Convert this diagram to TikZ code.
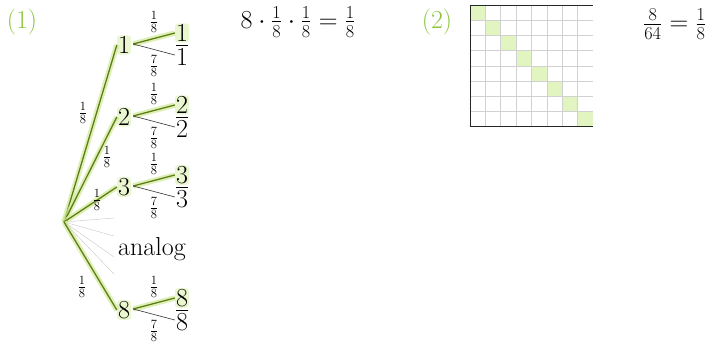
\RequirePackage{fix-cm}
\documentclass[tikz,border=0pt]{standalone}
\usepackage{amsmath}
\usetikzlibrary{positioning,calc}
\definecolor{tagGreen}{RGB}{140,198,63}
\definecolor{pathGreen}{RGB}{95,125,25}
\definecolor{haloGreen}{RGB}{208,234,150}
\definecolor{cellGreen}{RGB}{226,244,192}

\begin{document}
\begin{tikzpicture}[x=1pt, y=-1pt,
  num/.style={inner sep=1pt, font=\fontsize{26}{28}\selectfont},
  glow/.style={fill=haloGreen!45, rounded corners=3pt},
  prob/.style={inner sep=0pt, font=\fontsize{18}{20}\selectfont},
  hl/.style={draw=pathGreen, line width=1.3pt,
    preaction={draw=haloGreen, line width=5.5pt, opacity=0.7}},
  lo/.style={draw=black!80, line width=0.6pt},
  faint/.style={draw=black!22, line width=0.4pt},
  tag/.style={text=tagGreen, font=\fontsize{26}{28}\selectfont},
  eq/.style={font=\fontsize{26}{28}\selectfont}
]
\useasboundingbox (0,0) rectangle (707,347);

% part (1): tree
\node[tag] (t1) at (22,22) {(1)};
\coordinate (r) at (64,222);

% faint branches for 4..7
\foreach \e in {218,236,257,274}
  \draw[faint] (r) -- (114,\e);

\foreach \n/\y/\lx/\ly in {1/45/83/113, 2/117/107/157, 3/187/97/200, 8/310/82/287} {
  \node[num, glow] (m\n) at (124,\y) {\n};
  \node[num, glow] (u\n) at (182,\y-12) {\n};
  \node[num] (d\n) at (182,\y+10) {$\overline{\n}$};
  \coordinate (s\n) at ($(m\n.east)+(2,-1)$);
  \draw[hl] (r) -- (m\n.west);
  \draw[hl] (s\n) -- (u\n.west);
  \draw[lo] (s\n) -- (d\n.west);
  \node[prob] (p\n) at (\lx,\ly) {$\frac{1}{8}$};
  \node[prob] (pu\n) at (154,\y-23) {$\frac{1}{8}$};
  \node[prob] (pd\n) at (154,\y+21) {$\frac{7}{8}$};
}
\node[num] (an) at (152,249) {analog};

\node[eq] (f1) at (298,22) {$8\cdot\frac{1}{8}\cdot\frac{1}{8}=\frac{1}{8}$};

% part (2): grid
\node[tag] (t2) at (437,22) {(2)};
\foreach \i in {0,...,7}
  \fill[cellGreen] (470+15.35*\i,5+15.2*\i) rectangle ++(15.35,15.2);
\foreach \i in {1,...,7} {
  \draw[black!18, line width=0.5pt] (470+15.35*\i,5) -- (470+15.35*\i,126.6);
  \draw[black!18, line width=0.5pt] (470,5+15.2*\i) -- (592.8,5+15.2*\i);
}
\draw[black!85, line width=0.8pt] (592.8,5) -- (470,5) -- (470,126.6) -- (592.8,126.6);

\node[eq, anchor=west, inner sep=0pt] (f2) at (643,24) {$\frac{8}{64}=\frac{1}{8}$};
\end{tikzpicture}
\end{document}
